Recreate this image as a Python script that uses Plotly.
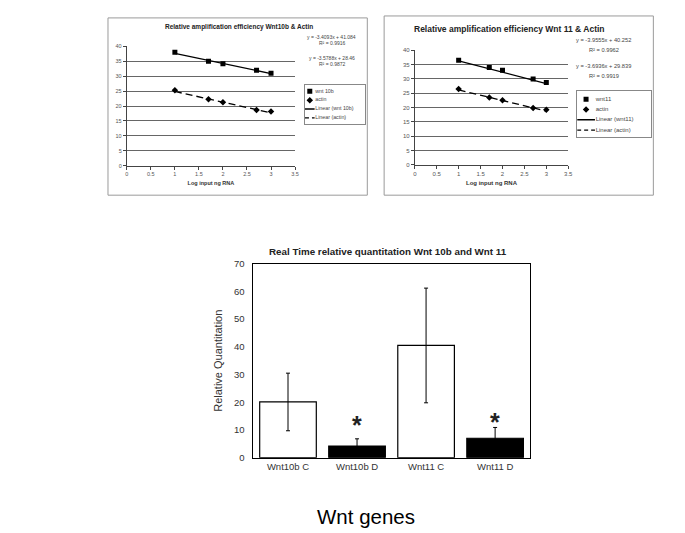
import plotly.graph_objects as go

W, H = 685, 533

# ---------------- data ----------------
log_input = [1.0, 1.699, 2.0, 2.699, 3.0]

wnt10b_ct = [38.0, 35.0, 34.2, 32.0, 31.0]
actin_a_ct = [25.3, 22.3, 21.3, 18.7, 18.2]
wnt10b_fit = (-3.4093, 41.084)
actin_a_fit = (-3.5788, 28.46)
wnt10b_r2 = "0.9916"
actin_a_r2 = "0.9872"

wnt11_ct = [36.5, 34.0, 33.0, 30.0, 28.7]
actin_b_ct = [26.5, 23.5, 22.5, 19.8, 19.2]
wnt11_fit = (-3.9555, 40.252)
actin_b_fit = (-3.6936, 29.839)
wnt11_r2 = "0.9962"
actin_b_r2 = "0.9919"

x_ticks = [0, 0.5, 1, 1.5, 2, 2.5, 3, 3.5]
x_tick_text = ["0", "0.5", "1", "1.5", "2", "2.5", "3", "3.5"]

legend_a = ["wnt 10b", "actin", "Linear (wnt 10b)", "Linear (actin)"]
legend_b = ["wnt11", "actin", "Linear (wnt11)", "Linear (actin)"]

groups = ["Wnt10b C", "Wnt10b D", "Wnt11 C", "Wnt11 D"]
rel_quant = [20.1, 4.2, 40.5, 7.0]
rel_err = [10.4, 2.6, 20.7, 3.9]
bar_fill = ["white", "black", "white", "black"]

FONT = "Liberation Sans, Arial, sans-serif"


def px(x):
    return x / W


def py(y):
    return 1 - y / H


fig = go.Figure()
annotations = []
shapes = []


def fit_line(fit, xs):
    m, b = fit
    xx = [min(xs), max(xs)]
    return xx, [m * v + b for v in xx]


def top_chart(idx, frame, plot, title, title_pos, title_size, tick_size,
              gene_ct, act_ct, gene_fit, act_fit, gene_r2, act_r2,
              eq_x, eq_ys, eq_size, leg_idx, leg_box, leg_rows, leg_labels,
              leg_size, leg_mark_x, leg_line_w, leg_text_x):
    xa = "x" if idx == 1 else f"x{idx}"
    ya = "y" if idx == 1 else f"y{idx}"
    shapes.append(dict(type="rect", xref="paper", yref="paper",
                       x0=px(frame[0]), x1=px(frame[2]), y0=py(frame[3]), y1=py(frame[1]),
                       line=dict(color="#9a9a9a", width=1), fillcolor="rgba(0,0,0,0)", layer="below"))
    fig.add_trace(go.Scatter(x=log_input, y=gene_ct, mode="markers", xaxis=xa, yaxis=ya,
                             marker=dict(symbol="square", size=5, color="black")))
    fig.add_trace(go.Scatter(x=log_input, y=act_ct, mode="markers", xaxis=xa, yaxis=ya,
                             marker=dict(symbol="diamond", size=5, color="black")))
    gx, gy = fit_line(gene_fit, log_input)
    fig.add_trace(go.Scatter(x=gx, y=gy, mode="lines", xaxis=xa, yaxis=ya,
                             line=dict(color="black", width=1.3)))
    axx, axy = fit_line(act_fit, log_input)
    fig.add_trace(go.Scatter(x=axx, y=axy, mode="lines", xaxis=xa, yaxis=ya,
                             line=dict(color="black", width=1.3, dash="7px,4px")))
    key = "xaxis" if idx == 1 else f"xaxis{idx}"
    keyy = "yaxis" if idx == 1 else f"yaxis{idx}"
    fig.update_layout(**{
        key: dict(domain=[px(plot[0]), px(plot[2])], range=[0, 3.5], anchor=ya,
                  tickvals=x_ticks, ticktext=x_tick_text, showline=True, linecolor="#444",
                  linewidth=1, ticks="outside", ticklen=3, tickcolor="#444",
                  tickfont=dict(size=tick_size, color="#555", family=FONT),
                  showgrid=False, zeroline=False,
                  title=dict(text="<b>Log input ng RNA</b>", standoff=4,
                             font=dict(size=tick_size, color="#333", family=FONT))),
        keyy: dict(domain=[py(plot[3]), py(plot[1])], range=[0, 40], anchor=xa,
                   dtick=5, showline=True, linecolor="#444", linewidth=1,
                   ticks="outside", ticklen=3, tickcolor="#444",
                   tickfont=dict(size=tick_size, color="#555", family=FONT),
                   showgrid=True, gridcolor="#666", gridwidth=1, zeroline=False),
    })
    annotations.append(dict(text=f"<b>{title}</b>", xref="paper", yref="paper",
                            x=px(title_pos[0]), y=py(title_pos[1]), showarrow=False,
                            xanchor="center", yanchor="middle",
                            font=dict(size=title_size, color="#222", family=FONT)))
    eq_texts = [
        f"y = {gene_fit[0]:.4f}x + {gene_fit[1]:g}",
        f"R² = {gene_r2}",
        f"y = {act_fit[0]:.4f}x + {act_fit[1]:g}",
        f"R² = {act_r2}",
    ]
    for t, yy in zip(eq_texts, eq_ys):
        annotations.append(dict(text=t, xref="paper", yref="paper", x=px(eq_x), y=py(yy),
                                showarrow=False, xanchor="center", yanchor="middle",
                                font=dict(size=eq_size, color="#444", family=FONT)))
    lx = f"x{leg_idx}"
    ly = f"y{leg_idx}"
    step = (leg_rows[-1] - leg_rows[0]) / 3
    top_pad = (leg_rows[0] - leg_box[1]) / step
    bot_pad = (leg_box[3] - leg_rows[-1]) / step
    fig.update_layout(**{
        f"xaxis{leg_idx}": dict(domain=[px(leg_box[0]), px(leg_box[2])], range=[0, 1],
                                anchor=ly, showline=True, mirror=True, linecolor="#888",
                                showticklabels=False, showgrid=False, zeroline=False, ticks=""),
        f"yaxis{leg_idx}": dict(domain=[py(leg_box[3]), py(leg_box[1])],
                                range=[3 + bot_pad, -top_pad], anchor=lx, showline=True,
                                mirror=True, linecolor="#888", showticklabels=False,
                                showgrid=False, zeroline=False, ticks=""),
    })
    fig.add_trace(go.Scatter(x=[leg_mark_x], y=[0], mode="markers", xaxis=lx, yaxis=ly,
                             marker=dict(symbol="square", size=5, color="black")))
    fig.add_trace(go.Scatter(x=[leg_mark_x], y=[1], mode="markers", xaxis=lx, yaxis=ly,
                             marker=dict(symbol="diamond", size=5, color="black")))
    fig.add_trace(go.Scatter(x=[0, leg_line_w], y=[2, 2], mode="lines", xaxis=lx, yaxis=ly,
                             line=dict(color="black", width=1.3)))
    fig.add_trace(go.Scatter(x=[0, leg_line_w], y=[3, 3], mode="lines", xaxis=lx, yaxis=ly,
                             line=dict(color="black", width=1.3, dash="4px,3px")))
    fig.add_trace(go.Scatter(x=[leg_text_x] * 4, y=list(range(4)), mode="text",
                             text=leg_labels, textposition="middle right", xaxis=lx, yaxis=ly,
                             textfont=dict(size=leg_size, color="#444", family=FONT)))


top_chart(1, frame=(99, 4, 361, 185), plot=(118, 33, 288, 155),
          title="Relative amplification efficiency Wnt10b & Actin", title_pos=(231, 13),
          title_size=6.5, tick_size=5.5,
          gene_ct=wnt10b_ct, act_ct=actin_a_ct, gene_fit=wnt10b_fit, act_fit=actin_a_fit,
          gene_r2=wnt10b_r2, act_r2=actin_a_r2,
          eq_x=325, eq_ys=(23, 29.5, 44.5, 51), eq_size=5,
          leg_idx=4, leg_box=(298, 72, 359, 112), leg_rows=(79, 88, 97, 106),
          leg_labels=legend_a, leg_size=5.3, leg_mark_x=0.08, leg_line_w=0.16, leg_text_x=0.17)

top_chart(2, frame=(378, 2, 650, 185), plot=(409, 37, 564, 154),
          title="Relative amplification efficiency Wnt 11 & Actin", title_pos=(505, 15),
          title_size=8.5, tick_size=6,
          gene_ct=wnt11_ct, act_ct=actin_b_ct, gene_fit=wnt11_fit, act_fit=actin_b_fit,
          gene_r2=wnt11_r2, act_r2=actin_b_r2,
          eq_x=600, eq_ys=(27, 37, 53, 63), eq_size=5.7,
          leg_idx=5, leg_box=(573, 79, 648, 126), leg_rows=(87, 97.5, 108, 118.5),
          leg_labels=legend_b, leg_size=6, leg_mark_x=0.12, leg_line_w=0.24, leg_text_x=0.25)

# ---------------- bottom bar chart ----------------
fig.add_trace(go.Bar(x=groups, y=rel_quant, xaxis="x3", yaxis="y3",
                     marker=dict(color=bar_fill, line=dict(color="black", width=1.2)),
                     error_y=dict(type="data", array=rel_err, color="black",
                                  thickness=1, width=2)))
fig.update_layout(
    xaxis3=dict(domain=[px(246), px(525)], anchor="y3", type="category",
                showline=True, mirror=True, linecolor="black", linewidth=1.2,
                ticks="", tickfont=dict(size=9.5, color="#333", family=FONT),
                showgrid=False, zeroline=False),
    yaxis3=dict(domain=[py(453), py(255)], anchor="x3", range=[0, 70], dtick=10,
                showline=True, mirror=True, linecolor="black", linewidth=1.2,
                ticks="", ticklabelstandoff=6,
                tickfont=dict(size=9.5, color="#333", family=FONT),
                showgrid=False, zeroline=False,
                title=dict(text="Relative Quantitation", standoff=9,
                           font=dict(size=11, color="#333", family=FONT))),
    bargap=0.18,
)
annotations.append(dict(text="<b>Real Time relative quantitation Wnt 10b and Wnt 11</b>",
                        xref="paper", yref="paper", x=px(382), y=py(242), showarrow=False,
                        xanchor="center", yanchor="middle",
                        font=dict(size=9.8, color="#222", family=FONT)))
for g, ystar in (("Wnt10b D", 13.8), ("Wnt11 D", 15.2)):
    annotations.append(dict(text="<b>*</b>", xref="x3", yref="y3", x=g, y=ystar, showarrow=False,
                            xanchor="center", yanchor="middle", yshift=-6,
                            font=dict(size=25, color="#222", family=FONT)))
annotations.append(dict(text="Wnt genes", xref="paper", yref="paper", x=px(360), y=py(513),
                        showarrow=False, xanchor="center", yanchor="middle",
                        font=dict(size=20.5, color="black", family=FONT)))

fig.update_layout(width=W, height=H, margin=dict(l=0, r=0, t=0, b=0),
                  paper_bgcolor="white", plot_bgcolor="white", showlegend=False,
                  annotations=annotations, shapes=shapes,
                  font=dict(family=FONT, color="#333"))

fig.write_html("out.html")
